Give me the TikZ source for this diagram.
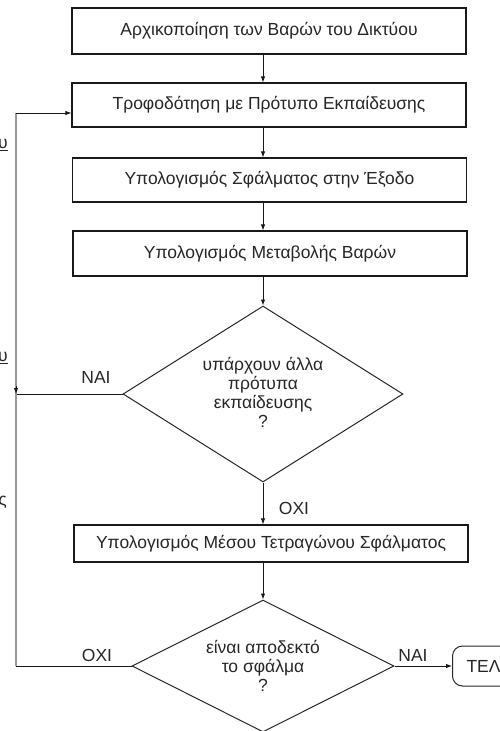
\documentclass[tikz,border=0pt]{standalone}
\usepackage{fontspec}
\setmainfont{Liberation Sans}
\usetikzlibrary{shapes.geometric,arrows.meta}
\begin{document}
\begin{tikzpicture}[x=1pt,y=-1pt,
  every node/.style={font=\fontsize{17.5}{19}\selectfont, text=black!85},
  stepbox/.style={draw=black!90, line width=1.1pt, rectangle, minimum width=394pt, inner sep=0pt},
  decision/.style={draw=black!85, line width=1pt, diamond, inner sep=0pt},
  question/.style={align=center, inner sep=0pt},
  terminal/.style={draw=black!85, line width=1pt, rectangle, rounded corners=10pt, minimum height=40pt, minimum width=80pt, inner sep=0pt},
  flow/.style={draw=black!90, line width=0.9pt},
  arr/.style={flow, -{Latex[length=6pt,width=4.5pt]}},
  loopline/.style={draw=black!40, line width=2pt},
  lbl/.style={inner sep=0pt}
]
\useasboundingbox (0,0) rectangle (499,731);

% process steps
\node[stepbox, minimum height=46pt] (b1) at (269,31) {Αρχικοποίηση των Βαρών του Δικτύου};
\node[stepbox, minimum height=44pt] (b2) at (269,105) {Τροφοδότηση με Πρότυπο Εκπαίδευσης};
\node[stepbox, minimum height=44pt] (b3) at (269.5,180) {Υπολογισμός Σφάλματος στην Έξοδο};
\node[stepbox, minimum height=45pt] (b4) at (270,253.5) {Υπολογισμός Μεταβολής Βαρών};

% decisions: outline and question text
\node[decision, minimum width=280pt, minimum height=176pt] (d1) at (263,394) {};
\node[question] (d1t) at (263,392) {υπάρχουν άλλα\\πρότυπα\\εκπαίδευσης\\?};
\node[stepbox, minimum height=37pt] (b5) at (271,543.5) {Υπολογισμός Μέσου Τετραγώνου Σφάλματος};
\node[decision, minimum width=262pt, minimum height=132pt] (d2) at (263,666) {};
\node[question] (d2t) at (263,666) {είναι αποδεκτό\\το σφάλμα\\?};
\node[terminal, anchor=west, minimum width=90pt, text width=70pt, align=left] (end) at (452,666) {\hspace*{4pt}ΤΕΛΟΣ};

% loop-back junctions on the left
\coordinate (jt) at (16,113);
\coordinate (jn) at (16,394);
\coordinate (jb) at (16,666);

% main flow
\draw[arr] (b1.south -| d1.north) -- (b2.north -| d1.north);
\draw[arr] (b2.south -| d1.north) -- (b3.north -| d1.north);
\draw[arr] (b3.south -| d1.north) -- (b4.north -| d1.north);
\draw[arr] (b4.south -| d1.north) -- (d1.north);
\draw[arr] (d1.south) -- (b5.north -| d1.south);
\draw[arr] (b5.south -| d2.north) -- (d2.north);
\draw[arr] (d2.east) -- (end.west);

% feedback loops
\draw[flow] (d1.west) -- (jn);
\draw[flow] (d2.west) -- (jb);
\draw[loopline] (jb) -- (jn);
\draw[loopline] (jn) -- (jt);
\draw[arr] ([yshift=8pt]jn) -- (jn);
\draw[arr] (jt) -- (jt -| b2.west);

% branch labels
\node[lbl] (y1) at (96,377) {ΝΑΙ};
\node[lbl] (n1) at (294,508) {ΟΧΙ};
\node[lbl] (n2) at (97,655) {ΟΧΙ};
\node[lbl] (y2) at (413,655) {ΝΑΙ};

% side notes at the left margin
\node[lbl, anchor=east] (s1) at (8,145) {\underline{ου}};
\node[lbl, anchor=east] (s2) at (8,358) {\underline{ου}};
\node[lbl, anchor=east] (s3) at (7,503) {ης};
\end{tikzpicture}
\end{document}
